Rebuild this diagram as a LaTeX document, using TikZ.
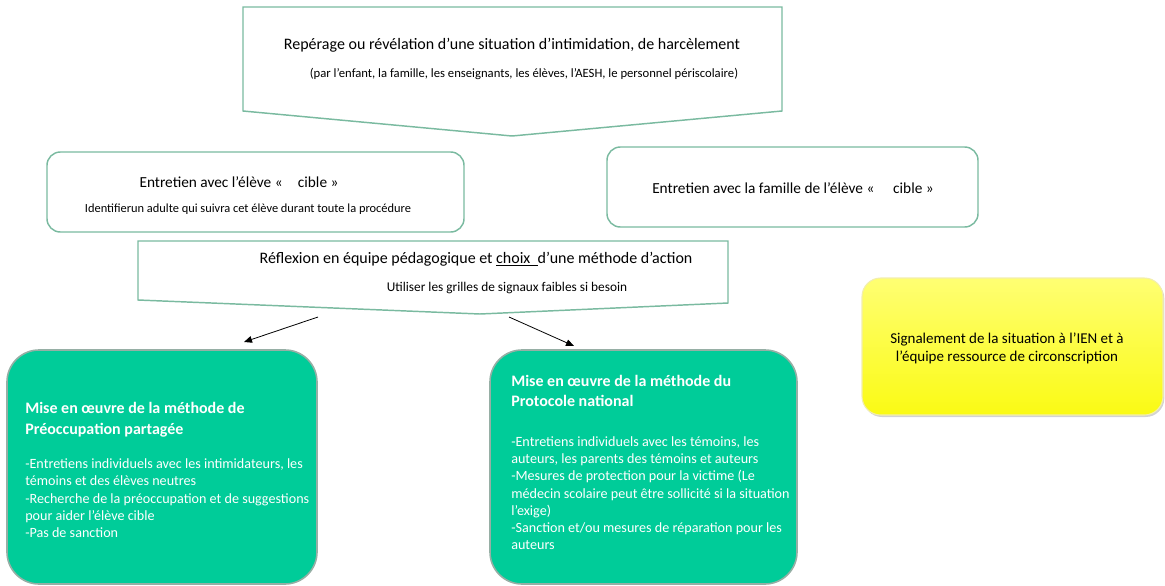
\documentclass[tikz,border=0pt]{standalone}
\usepackage{fontspec}
\setmainfont{Carlito}
\usetikzlibrary{arrows.meta,shadows}

\definecolor{boxline}{RGB}{122,186,160}
\definecolor{mint}{RGB}{0,204,153}
\definecolor{mintline}{RGB}{150,175,165}
\definecolor{lemon}{RGB}{250,250,20}

\newcommand{\mtitle}[1]{{\fontsize{12}{15}\selectfont\bfseries #1}}

\tikzset{
  pbox/.style={draw=boxline, line width=1.1pt},
  rbox/.style={draw=boxline, line width=1.1pt, rounded corners=10pt},
  mbox/.style={fill=mint, draw=mintline, line width=1.2pt, rounded corners=24pt},
  mtext/.style={text=white, align=left, anchor=north west, inner sep=0pt,
    font=\fontsize{10.6}{12.9}\selectfont},
  arr/.style={-{Triangle[length=6pt,width=5pt]}, line width=0.6pt},
}

\begin{document}
\begin{tikzpicture}[x=0.75pt, y=-0.75pt]
\useasboundingbox (0,0) rectangle (1165,586);

% reperage
\draw[pbox] (243,7) -- (782,7) -- (782,111) -- (512,136) -- (243,111) -- cycle;
\node (rep) at (512,45) {\fontsize{12}{14}\selectfont Repérage ou révélation d’une situation d’intimidation, de harcèlement};
\node (repsub) at (524,74) {\fontsize{9.5}{11}\selectfont (par l’enfant, la famille, les enseignants, les élèves, l’AESH, le personnel périscolaire)};

% entretiens
\draw[rbox] (47,152) rectangle (464,232);
\node (eleve) at (239,182) {\fontsize{11.5}{13}\selectfont Entretien avec l’élève «\quad cible »};
\node (adulte) at (248,209) {\fontsize{9.3}{11}\selectfont Identifierun adulte qui suivra cet élève durant toute la procédure};

\draw[rbox] (607,147) rectangle (978,227);
\node (famille) at (793,188) {\fontsize{11.5}{13}\selectfont Entretien avec la famille de l’élève «\quad\ cible »};

% reflexion
\draw[pbox] (138,241) -- (728,241) -- (728,303) -- (480,314) -- (138,300) -- cycle;
\node (refl) at (476,259) {\fontsize{12}{14}\selectfont Réflexion en équipe pédagogique et \underline{choix\ \ }d’une méthode d’action};
\node (grille) at (507,288) {\fontsize{10}{12}\selectfont Utiliser les grilles de signaux faibles si besoin};

% methodes
\draw[mbox] (7,350) rectangle (317,584);
\node[mtext] (preo) at (25,402) {%
  \mtitle{Mise en œuvre de la méthode de}\\[3pt]
  \mtitle{Préoccupation partagée}\\[12.6pt]
  -Entretiens individuels avec les intimidateurs, les\\
  témoins et des élèves neutres\\
  -Recherche de la préoccupation et de suggestions\\
  pour aider l’élève cible\\
  -Pas de sanction};

\draw[mbox] (490,350) rectangle (797,584);
\node[mtext] (proto) at (511,375) {%
  \mtitle{Mise en œuvre de la méthode du}\\[2.1pt]
  \mtitle{Protocole national}\\[17.1pt]
  -Entretiens individuels avec les témoins, les\\
  auteurs, les parents des témoins et auteurs\\
  -Mesures de protection pour la victime (Le\\
  médecin scolaire peut être sollicité si la situation\\
  l’exige)\\
  -Sanction et/ou mesures de réparation pour les\\
  auteurs};

% signalement
\draw[drop shadow={shadow xshift=1pt, shadow yshift=-1.5pt, opacity=0.35},
      top color=yellow!55!white, bottom color=lemon, draw=yellow!70!gray!40,
      line width=0.8pt, rounded corners=14pt] (862,278) rectangle (1163,415);
\node[align=center, font=\fontsize{11.25}{13.5}\selectfont] (ien) at (1007,348)
  {Signalement de la situation à l’IEN et à\\ l’équipe ressource de circonscription};

% fleches
\coordinate (a1) at (318,317);
\coordinate (a1e) at (244,342);
\coordinate (a2) at (509,317);
\coordinate (a2e) at (574,346);
\draw[arr] (a1) -- (a1e);
\draw[arr] (a2) -- (a2e);

\end{tikzpicture}
\end{document}
